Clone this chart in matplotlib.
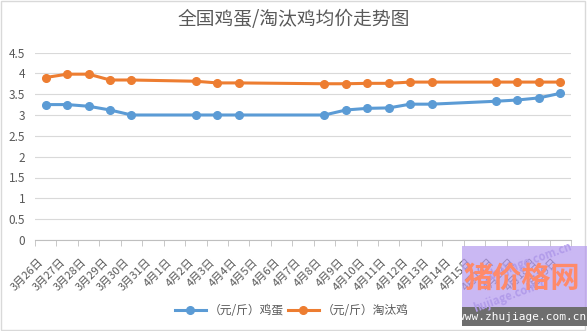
import matplotlib
matplotlib.use('Agg')
import matplotlib.pyplot as plt
from matplotlib.patches import Rectangle

plt.rcParams['font.family'] = ['Noto Sans CJK SC', 'DejaVu Sans']

# category axis: every day from 3/26 to 4/19
dates = ['3月26日', '3月27日', '3月28日', '3月29日', '3月30日', '3月31日',
         '4月1日', '4月2日', '4月3日', '4月4日', '4月5日', '4月6日', '4月7日',
         '4月8日', '4月9日', '4月10日', '4月11日', '4月12日', '4月13日',
         '4月14日', '4月15日', '4月16日', '4月17日', '4月18日', '4月19日']

# days that actually have a quote
quote_days = ['3月26日', '3月27日', '3月28日', '3月29日', '3月30日',
              '4月2日', '4月3日', '4月4日', '4月8日', '4月9日', '4月10日',
              '4月11日', '4月12日', '4月13日', '4月16日', '4月17日',
              '4月18日', '4月19日']
egg = [3.25, 3.25, 3.21, 3.12, 3.00,
       3.00, 3.00, 3.00, 3.00, 3.12, 3.16,
       3.17, 3.26, 3.26, 3.33, 3.36,
       3.41, 3.52]
hen = [3.90, 3.98, 3.98, 3.84, 3.84,
       3.81, 3.77, 3.77, 3.75, 3.75, 3.76,
       3.76, 3.79, 3.79, 3.79, 3.79,
       3.79, 3.79]

blue = '#5B9BD5'
orange = '#ED7D31'
txt = '#595959'

fig = plt.figure(figsize=(5.87, 3.31), dpi=100)
ax = fig.add_axes([35 / 587, 1 - 240 / 331, 536 / 587, 187.5 / 331])

xs = [dates.index(d) for d in quote_days]
ax.plot(xs, egg, color=blue, lw=2.2, marker='o', ms=5.5, label='（元/斤）鸡蛋')
ax.plot(xs, hen, color=orange, lw=2.2, marker='o', ms=5.5, label='（元/斤）淘汰鸡')

ax.set_xlim(-0.5, len(dates) - 0.5)
ax.set_ylim(0, 4.5)
ax.set_yticks([0, 0.5, 1, 1.5, 2, 2.5, 3, 3.5, 4, 4.5])
ax.set_yticklabels(['0', '0.5', '1', '1.5', '2', '2.5', '3', '3.5', '4', '4.5'])
ax.grid(axis='y', color='#D9D9D9', lw=0.8)
ax.set_axisbelow(True)
for s in ['left', 'right', 'top']:
    ax.spines[s].set_visible(False)
ax.spines['bottom'].set_color('#BFBFBF')
ax.tick_params(axis='y', length=0, pad=7, labelsize=8.5, labelcolor=txt)

ax.set_xticks(range(len(dates)))
ax.set_xticklabels(dates, rotation=45, ha='right', fontsize=8, color=txt)
ax.set_xticks([i - 0.5 for i in range(len(dates) + 1)], minor=True)
ax.tick_params(axis='x', which='major', length=0, pad=12)
ax.tick_params(axis='x', which='minor', length=4, color='#BFBFBF', direction='out')

fig.text(0.5, 1 - 20 / 331, '全国鸡蛋/淘汰鸡均价走势图', ha='center', va='center',
         fontsize=13.5, color=txt)

fig.legend(loc='center', bbox_to_anchor=(292 / 587, 1 - 311 / 331), ncol=2,
           frameon=False, fontsize=8.5, labelcolor=txt, handlelength=2.6,
           columnspacing=0.3, handletextpad=0.3)

# border around the chart
fig.patches.append(Rectangle((0.002, 0.004), 0.994, 0.994, transform=fig.transFigure,
                             fill=False, ec='#D9D9D9', lw=1))

# watermark
fig.patches.append(Rectangle((462 / 587, 1 - 307 / 331), 125 / 587, 61 / 331,
                             transform=fig.transFigure, fc='#B49AEE', ec='none',
                             alpha=0.7, zorder=5))
fig.patches.append(Rectangle((462 / 587, 1 - 326 / 331), 125 / 587, 19 / 331,
                             transform=fig.transFigure, fc='#6E6E6E', ec='none', zorder=5))
fig.text(530 / 587, 1 - 262 / 331, 'zhujiage.com.cn', ha='center', va='center',
         fontsize=8, color='#B29CEA', rotation=20, fontweight='bold', zorder=6)
fig.text(510 / 587, 1 - 296 / 331, 'hujiage.com.c', ha='center', va='center',
         fontsize=8, color='#B29CEA', rotation=20, fontweight='bold', zorder=6)
fig.text(522 / 587, 1 - 278 / 331, '猪价格网', ha='center', va='center',
         fontsize=21, color='#FF8A6A', fontweight='bold', zorder=7)
fig.text(522 / 587, 1 - 316.5 / 331, 'www.zhujiage.com.cn', ha='center', va='center',
         fontsize=8, color='white', family='DejaVu Sans Mono', zorder=7)

fig.savefig('out.png', dpi=100)
